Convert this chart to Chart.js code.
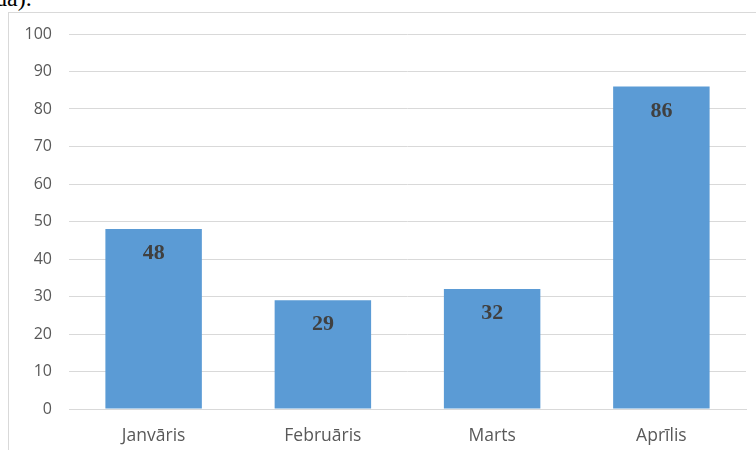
<!DOCTYPE html>
<html>
<head>
<meta charset="utf-8">
<script src="https://cdn.jsdelivr.net/npm/chart.js@4.4.0/dist/chart.umd.min.js"></script>
<style>
    html, body { margin: 0; padding: 0; background: #fff; overflow: hidden; }
    #wrap { position: relative; width: 756px; height: 450px; }
    #frame { position: absolute; left: 8px; top: 12px; width: 800px; height: 500px; border: 1px solid #d9d9d9; box-sizing: border-box; }
    #caption { position: absolute; left: -5px; top: -15px; font: 24px "Liberation Serif", serif; color: #000; }
    canvas { position: absolute; left: 0; top: 0; }
</style>
</head>
<body>
<div id="wrap">
    <div id="caption">da).</div>
    <div id="frame"></div>
    <canvas id="barChart" width="756" height="450"></canvas>
</div>
<script>
// dati
const months = ['Janvāris', 'Februāris', 'Marts', 'Aprīlis'];
const values = [48, 29, 32, 86];
const yTicks = [0, 10, 20, 30, 40, 50, 60, 70, 80, 90, 100];

// vērtības joslas iekšpusē
const valueLabels = {
    id: 'valueLabels',
    afterDatasetsDraw(chart) {
        const ctx = chart.ctx;
        const meta = chart.getDatasetMeta(0);
        ctx.save();
        ctx.font = 'bold 22px "Liberation Serif", serif';
        ctx.fillStyle = '#404040';
        ctx.textAlign = 'center';
        ctx.textBaseline = 'alphabetic';
        meta.data.forEach((bar, i) => {
            ctx.fillText(values[i], bar.x, bar.y + 30);
        });
        ctx.restore();
    }
};

new Chart(document.getElementById('barChart').getContext('2d'), {
    type: 'bar',
    data: {
        labels: months,
        datasets: [{
            data: values,
            backgroundColor: '#5b9bd5',
            borderWidth: 0,
            categoryPercentage: 0.57,
            barPercentage: 1
        }]
    },
    options: {
        responsive: false,
        animation: false,
        layout: { padding: { top: 34, right: 10, left: 0, bottom: 0 } },
        plugins: {
            legend: { display: false },
            tooltip: { enabled: false }
        },
        scales: {
            x: {
                grid: { display: false },
                border: { display: true, color: '#d9d9d9', width: 1 },
                ticks: {
                    color: '#595959',
                    font: { family: 'Open Sans', size: 17.5 },
                    padding: 9
                },
                afterFit(scale) { scale.height = 41; }
            },
            y: {
                min: 0,
                max: 100,
                afterBuildTicks(scale) { scale.ticks = yTicks.map(v => ({ value: v })); },
                grid: { color: '#d9d9d9', drawTicks: false },
                border: { display: false },
                ticks: {
                    color: '#595959',
                    font: { family: 'Open Sans', size: 16 },
                    padding: 17
                },
                afterFit(scale) { scale.width = 69; }
            }
        }
    },
    plugins: [valueLabels]
});
</script>
</body>
</html>
